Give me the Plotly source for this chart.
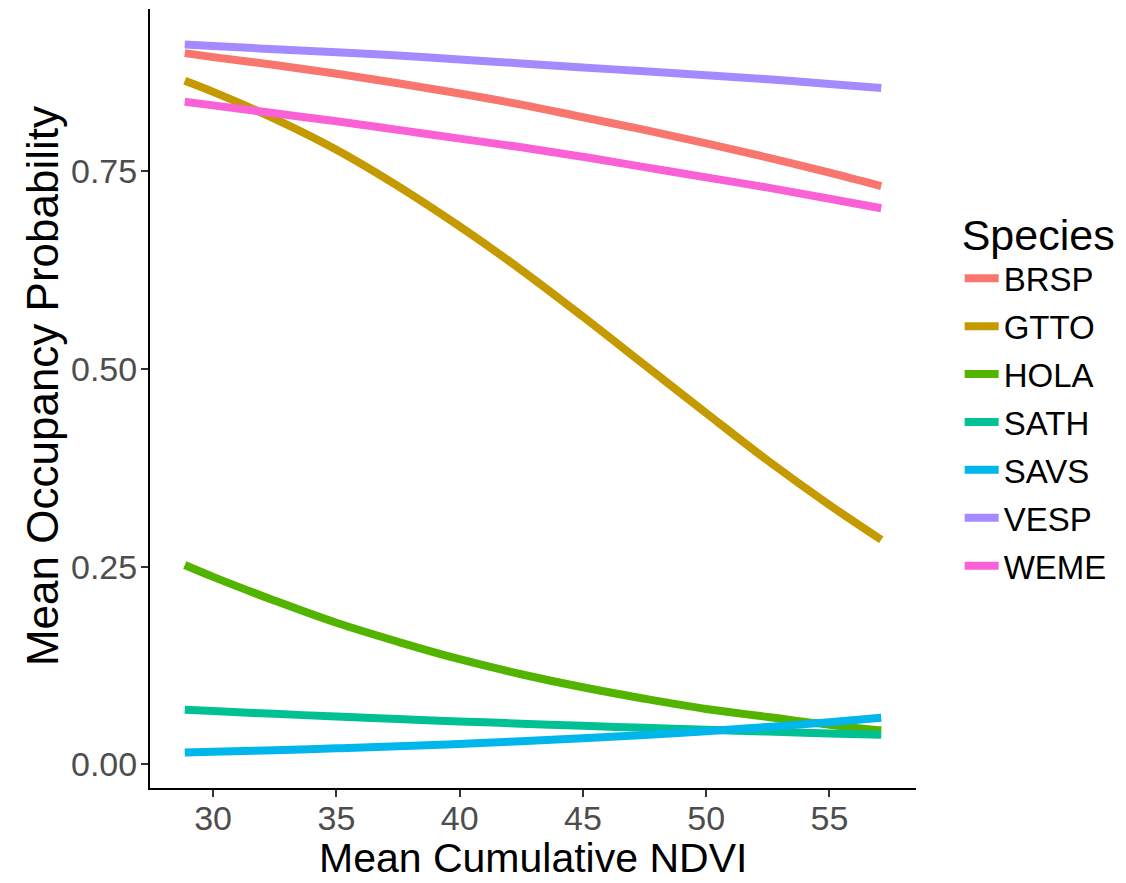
import plotly.graph_objects as go

ndvi = [28.85, 30, 32.5, 35, 37.5, 40, 42.5, 45, 47.5, 50, 52.5, 55, 57.1]

species = ["BRSP", "GTTO", "HOLA", "SATH", "SAVS", "VESP", "WEME"]
colors = ["#F8766D", "#C49A00", "#53B400", "#00C094", "#00B6EB", "#A58AFF", "#FB61D7"]

brsp = [0.899, 0.894, 0.884, 0.873, 0.861, 0.848, 0.834, 0.818, 0.802, 0.785, 0.767, 0.748, 0.731]
gtto = [0.864, 0.850, 0.816, 0.777, 0.731, 0.680, 0.625, 0.566, 0.505, 0.444, 0.384, 0.328, 0.284]
hola = [0.252, 0.237, 0.207, 0.179, 0.155, 0.133, 0.114, 0.0975, 0.083, 0.070, 0.060, 0.050, 0.043]
sath = [0.069, 0.0674, 0.0639, 0.0605, 0.0573, 0.0544, 0.0515, 0.0488, 0.0462, 0.0438, 0.0415, 0.0392, 0.0375]
savs = [0.015, 0.0159, 0.0180, 0.0203, 0.0229, 0.0259, 0.0293, 0.0330, 0.0373, 0.0420, 0.0474, 0.0534, 0.059]
vesp = [0.910, 0.908, 0.904, 0.900, 0.896, 0.891, 0.886, 0.881, 0.876, 0.871, 0.866, 0.860, 0.855]
weme = [0.8376, 0.833, 0.823, 0.813, 0.802, 0.791, 0.780, 0.768, 0.755, 0.742, 0.729, 0.715, 0.703]

series = [brsp, gtto, hola, sath, savs, vesp, weme]

x_ticks = [30, 35, 40, 45, 50, 55]
y_ticks = [0.0, 0.25, 0.5, 0.75]
y_tick_labels = ["0.00", "0.25", "0.50", "0.75"]

x_title = "Mean Cumulative NDVI"
y_title = "Mean Occupancy Probability"

FONT = "Liberation Sans, Arial, sans-serif"

fig = go.Figure()
for name, col, vals in zip(species, colors, series):
    fig.add_trace(go.Scatter(
        x=ndvi, y=vals, mode="lines", name=name, legendgroup=name,
        line=dict(color=col, width=8, shape="spline"),
    ))

fig.update_layout(
    width=1110, height=867,
    margin=dict(l=142, r=202, t=1, b=87, pad=0),
    plot_bgcolor="white", paper_bgcolor="white",
    font=dict(family=FONT, color="black"),
    legend=dict(
        title=dict(text="Species", font=dict(size=43, color="black")),
        font=dict(size=33, color="black"),
        x=1.057, xanchor="left", y=0.762, yanchor="top",
        tracegroupgap=2, itemwidth=34,
        bgcolor="rgba(0,0,0,0)",
    ),
    xaxis=dict(
        range=[27.44, 58.51], tickvals=x_ticks,
        showgrid=False, zeroline=False, automargin=False,
        showline=True, linecolor="black", linewidth=2,
        ticks="outside", ticklen=7, tickwidth=2, tickcolor="#333333",
        ticklabelstandoff=-8,
        tickfont=dict(size=34, color="#4D4D4D"),
    ),
    yaxis=dict(
        range=[-0.0298, 0.9548], tickvals=y_ticks, ticktext=y_tick_labels,
        showgrid=False, zeroline=False, automargin=False,
        showline=True, linecolor="black", linewidth=2,
        ticks="outside", ticklen=7, tickwidth=2, tickcolor="#333333",
        ticklabelstandoff=-3,
        tickfont=dict(size=34, color="#4D4D4D"),
    ),
    annotations=[
        dict(text=x_title, xref="paper", yref="paper", x=0.5, y=-0.0899,
             xanchor="center", yanchor="middle", showarrow=False,
             font=dict(size=41, color="black")),
        dict(text=y_title, xref="paper", yref="paper", x=-0.141, y=0.516,
             xanchor="center", yanchor="middle", showarrow=False, textangle=-90,
             font=dict(size=44, color="black")),
    ],
)

fig.write_html("out.html")
